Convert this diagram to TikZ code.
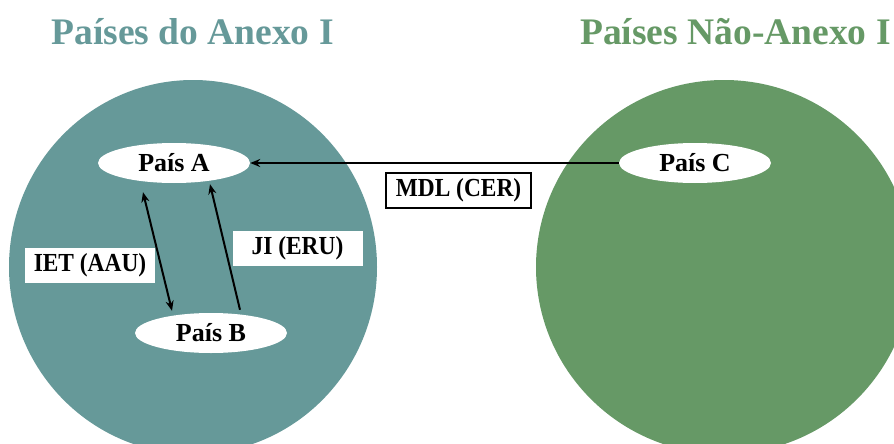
\documentclass[tikz,border=0pt]{standalone}
\usepackage{fontspec}
\setmainfont{Liberation Serif}
\newfontfamily\lblfont[FakeStretch=0.9]{Liberation Serif}
\usetikzlibrary{shapes.geometric,arrows.meta}
\definecolor{annexI}{HTML}{669999}
\definecolor{nonannex}{HTML}{669966}
\begin{document}
\begin{tikzpicture}[x=1pt,y=-1pt,
  ctry/.style={ellipse, fill=white, minimum width=152pt, minimum height=40pt, inner sep=0pt,
    font=\fontsize{26}{28}\selectfont\bfseries},
  lbl/.style={fill=white, minimum width=130pt, minimum height=35pt, inner sep=0pt,
    font=\lblfont\fontsize{26}{28}\selectfont\bfseries},
  titletext/.style={anchor=base, font=\fontsize{37.5}{40}\selectfont\bfseries},
  conn/.style={line width=2pt, -{Stealth[length=10pt,width=8pt]}},
  conntwo/.style={line width=2pt, {Stealth[length=10pt,width=8pt]}-{Stealth[length=10pt,width=8pt]}}]
\clip (0,0) rectangle (894,444);
\fill[annexI] (193,267) ellipse [x radius=184pt, y radius=187pt];
\fill[nonannex] (724,267) ellipse [x radius=188pt, y radius=187pt];
\node[titletext, text=annexI] (t1) at (192.5,45) {Países do Anexo I};
\node[titletext, text=nonannex] (t2) at (735.5,45) {Países Não-Anexo I};
\node[ctry] (A) at (174,163) {País A};
\node[ctry] (B) at (211,333) {País B};
\node[ctry] (C) at (695,163) {País C};
\node[lbl] (iet) at (90,265.5) {IET (AAU)};
\node[lbl] (ji) at (297.5,248.5) {JI (ERU)};
\node[lbl, draw=black, line width=2.5pt, minimum width=145pt] (mdl) at (458.5,190.5) {MDL (CER)};
\draw[conn] (C.west) -- (A.east);
\draw[conntwo] ([xshift=-31pt,yshift=-9pt]A.south) -- ([xshift=-39pt,yshift=2pt]B.north);
\draw[conn] ([xshift=29pt,yshift=3pt]B.north) -- ([xshift=36pt,yshift=-1pt]A.south);
\end{tikzpicture}
\end{document}
